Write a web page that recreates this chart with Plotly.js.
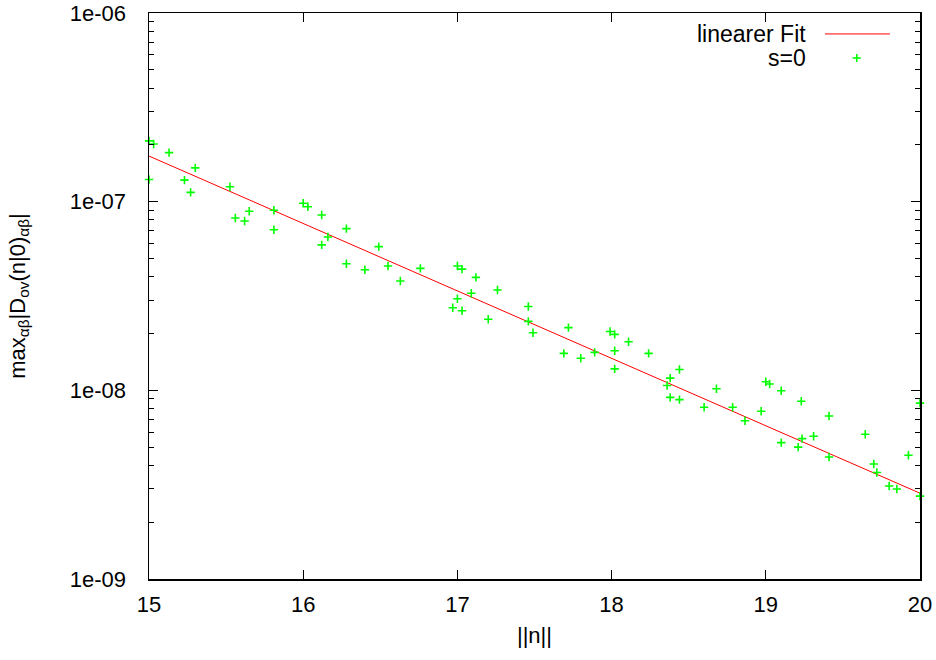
<!DOCTYPE html>
<html>
<head>
<meta charset="utf-8">
<script src="https://cdn.plot.ly/plotly-3.0.1.min.js"></script>
<style>html,body{margin:0;padding:0;background:#fff;}#plot{width:936px;height:660px;}</style>
</head>
<body>
<div id="plot"></div>
<script>
// s=0 data points
var normN = [15.00, 15.03, 15.13, 15.30, 15.00, 15.23, 15.27, 15.525, 15.56, 15.62,
             15.65, 15.81, 15.81, 16.00, 16.03, 16.12, 16.28, 16.16, 16.12, 16.28,
             16.40, 16.49, 16.55, 16.63, 16.76, 17.00, 17.03, 17.12, 17.09, 17.00,
             16.97, 17.03, 17.26, 17.20, 17.46, 17.46, 17.49, 17.72, 17.69, 17.80,
             17.89, 17.99, 18.02, 18.11, 18.02, 18.02, 18.24, 18.44, 18.38, 18.36,
             18.38, 18.44, 18.60, 18.68, 18.785, 18.865, 18.97, 19.00, 19.025, 19.10,
             19.10, 19.21, 19.235, 19.23, 19.31, 19.41, 19.41, 19.645, 19.70, 19.72,
             19.80, 19.85, 19.925, 20.00, 20.00];
var maxD = [2.10e-7, 2.02e-7, 1.82e-7, 1.51e-7, 1.31e-7, 1.30e-7, 1.12e-7, 1.20e-7, 8.2e-8, 7.9e-8,
            8.9e-8, 9.0e-8, 7.1e-8, 9.8e-8, 9.4e-8, 8.5e-8, 7.2e-8, 6.5e-8, 5.9e-8, 4.69e-8,
            4.36e-8, 5.78e-8, 4.56e-8, 3.80e-8, 4.43e-8, 4.56e-8, 4.39e-8, 3.97e-8, 3.27e-8, 3.06e-8,
            2.74e-8, 2.64e-8, 3.40e-8, 2.38e-8, 2.78e-8, 2.32e-8, 2.02e-8, 2.15e-8, 1.57e-8, 1.48e-8,
            1.59e-8, 2.05e-8, 1.98e-8, 1.81e-8, 1.62e-8, 1.30e-8, 1.57e-8, 1.29e-8, 1.16e-8, 1.06e-8,
            9.18e-9, 8.93e-9, 8.13e-9, 1.02e-8, 8.13e-9, 6.9e-9, 7.75e-9, 1.11e-8, 1.08e-8, 9.95e-9,
            5.28e-9, 5.0e-9, 5.55e-9, 8.75e-9, 5.71e-9, 4.43e-9, 7.31e-9, 5.85e-9, 4.07e-9, 3.67e-9,
            3.11e-9, 3.0e-9, 4.53e-9, 8.55e-9, 2.75e-9];

// linear fit (on log scale) end points
var fitX = [15, 20];
var fitY = [1.745e-7, 2.85e-9];

// axis ticks
var xTicks = [15, 16, 17, 18, 19, 20];
var yTicks = [1e-9, 1e-8, 1e-7, 1e-6];
var yTickText = ['1e-09', '1e-08', '1e-07', '1e-06'];
var yMinor = [];
[1e-9, 1e-8, 1e-7].forEach(function (d) {
  [2, 3, 4, 5, 6, 7, 8, 9].forEach(function (m) { yMinor.push(m * d); });
});

var FONT = 'Liberation Sans, Arial, sans-serif';
var FS = 22;
var LFS = 23;

var traces = [
  {
    x: fitX, y: fitY, mode: 'lines', name: 'linearer Fit',
    line: {color: '#ff0000', width: 1}, showlegend: false, hoverinfo: 'skip'
  },
  {
    x: normN, y: maxD, mode: 'markers', name: 's=0', cliponaxis: false,
    marker: {symbol: 'cross-thin-open', size: 6, color: '#00ff00', line: {color: '#00ff00', width: 1.6}},
    showlegend: false
  }
];

// manual gnuplot-style legend (text then sample)
var lgTextX = 0.855, lgY1 = 0.963, lgY2 = 0.9205;
var plusX = 0.918, dx = 4 / 771, dy = 4 / 566;

var layout = {
  width: 936, height: 660,
  margin: {l: 149, r: 16, t: 13, b: 81},
  paper_bgcolor: '#ffffff', plot_bgcolor: '#ffffff',
  font: {family: FONT, size: FS, color: '#000'},
  showlegend: false,
  xaxis: {
    range: [15, 20], tickmode: 'array', tickvals: xTicks,
    ticks: 'inside', ticklen: 9, tickwidth: 1, tickcolor: '#000',
    showline: true, linecolor: '#000', linewidth: 1.5, mirror: 'ticks',
    showgrid: false, zeroline: false,
    tickfont: {family: FONT, size: FS}, ticklabelstandoff: 5,
    title: {text: '||n||', font: {family: FONT, size: FS}, standoff: 11}
  },
  yaxis: {
    type: 'log', range: [-9, -6], tickmode: 'array', tickvals: yTicks, ticktext: yTickText,
    ticks: 'inside', ticklen: 9, tickwidth: 1, tickcolor: '#000',
    minor: {tickmode: 'array', tickvals: yMinor, ticks: 'inside', ticklen: 5, tickwidth: 1, tickcolor: '#000', showgrid: false},
    showline: true, linecolor: '#000', linewidth: 1.5, mirror: 'ticks',
    showgrid: false, zeroline: false,
    tickfont: {family: FONT, size: FS}, ticklabelstandoff: 17,
    title: {text: 'max<sub>αβ</sub>|D<sub>ov</sub>(n|0)<sub>αβ</sub>|', font: {family: FONT, size: FS}, standoff: 38}
  },
  annotations: [
    {xref: 'paper', yref: 'paper', x: lgTextX, y: lgY1, xanchor: 'right', yanchor: 'middle',
     text: 'linearer Fit', showarrow: false, font: {family: FONT, size: LFS, color: '#000'}},
    {xref: 'paper', yref: 'paper', x: lgTextX, y: lgY2, xanchor: 'right', yanchor: 'middle',
     text: 's=0', showarrow: false, font: {family: FONT, size: LFS, color: '#000'}}
  ],
  shapes: [
    {type: 'line', xref: 'paper', yref: 'paper', x0: 0.8768, x1: 0.961, y0: lgY1, y1: lgY1,
     line: {color: '#ff0000', width: 1}},
    {type: 'line', xref: 'paper', yref: 'paper', x0: plusX - dx, x1: plusX + dx, y0: lgY2, y1: lgY2,
     line: {color: '#00ff00', width: 1.6}},
    {type: 'line', xref: 'paper', yref: 'paper', x0: plusX, x1: plusX, y0: lgY2 - dy, y1: lgY2 + dy,
     line: {color: '#00ff00', width: 1.6}}
  ]
};

Plotly.newPlot('plot', traces, layout, {displayModeBar: false, staticPlot: true});
</script>
</body>
</html>
